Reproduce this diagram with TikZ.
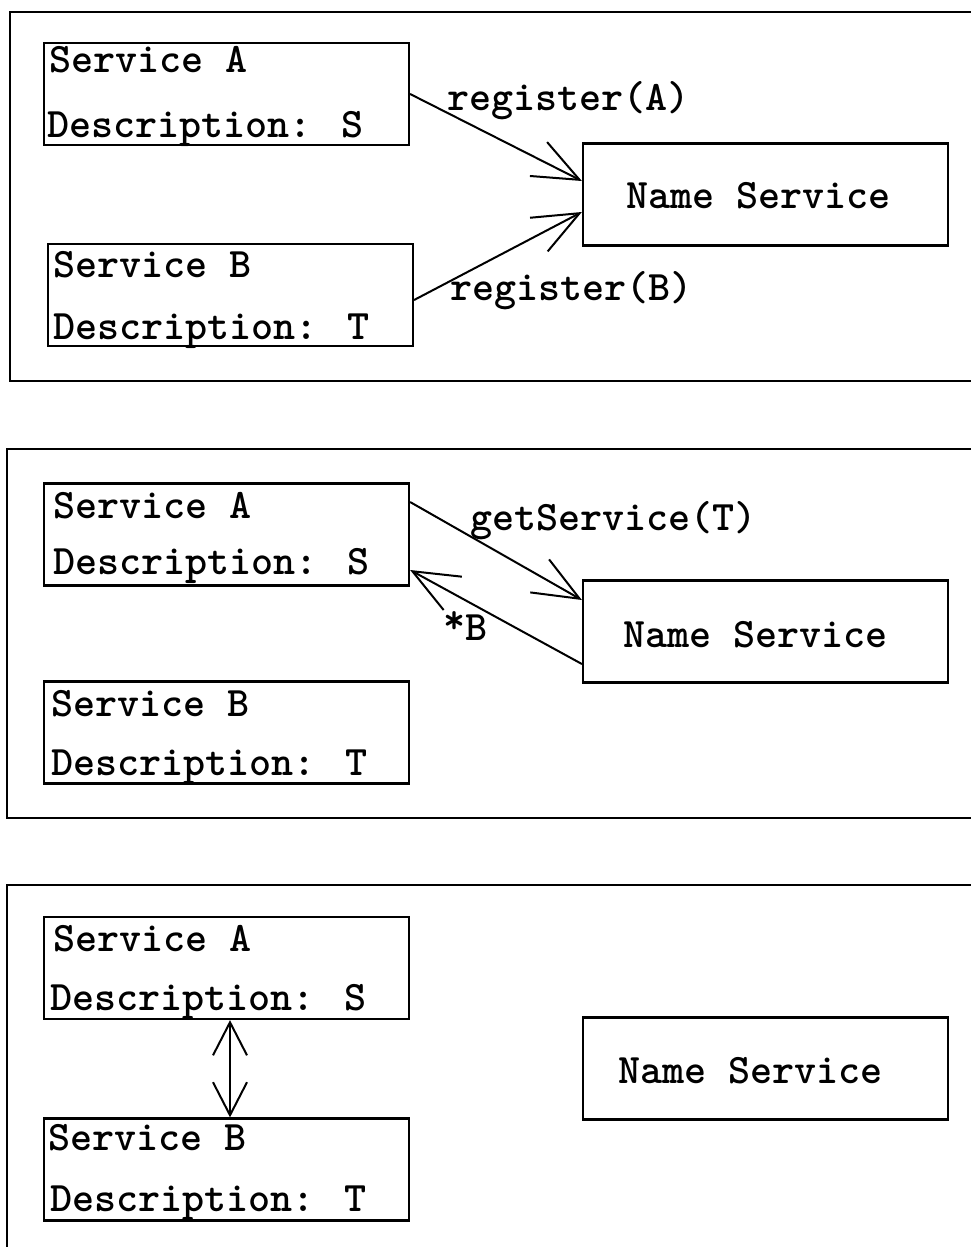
\documentclass[tikz,border=0pt]{standalone}
\usetikzlibrary{arrows.meta,calc}
\begin{document}
\begin{tikzpicture}[x=1pt,y=-1pt,
  frame/.style={line width=2.6pt},
  box/.style={draw,line width=2.2pt,minimum width=365pt,minimum height=102pt,inner sep=0pt},
  txt/.style={anchor=base west,inner sep=0pt,font=\ttfamily\bfseries\fontsize{42}{50}\selectfont},
  conn/.style={line width=2pt,-{Straight Barb[length=46pt,width=38pt,line width=2pt]}},
  dconn/.style={line width=2pt,{Straight Barb[length=33pt,width=34pt,line width=2pt]}-{Straight Barb[length=33pt,width=34pt,line width=2pt]}}]
\useasboundingbox (0,0) rectangle (971,1247);
\fill[white] (0,0) rectangle (971,1247);
% frames
\draw[frame] (10,12) rectangle (990,381);
\draw[frame] (7,449) rectangle (990,818);
\draw[frame] (7,885) rectangle (990,1270);
% panel 1
\node[box] (A1) at (226.5,94) {};
\node[box] (B1) at (230.5,295) {};
\node[box] (N1) at (765.5,194.5) {};
\node[txt] (A1t) at (49,72) {Service A};
\node[txt] (A1d) at (47,137) {Description: S};
\node[txt] (B1t) at (53,277) {Service B};
\node[txt] (B1d) at (53,339) {Description: T};
\node[txt] (N1t) at (626,208) {Name Service};
\node[txt] (L1a) at (447,110) {register(A)};
\node[txt] (L1b) at (450,300) {register(B)};
\draw[conn] (A1.east) -- ($(N1.west)+(0,-13.5)$);
\draw[conn] ($(B1.east)+(0,5)$) -- ($(N1.west)+(0,17.5)$);
% panel 2
\node[box] (A2) at (226.5,534.5) {};
\node[box] (B2) at (226.5,732.5) {};
\node[box] (N2) at (765.5,631.5) {};
\node[txt] (A2t) at (53,518) {Service A};
\node[txt] (A2d) at (53,574) {Description: S};
\node[txt] (B2t) at (51,716) {Service B};
\node[txt] (B2d) at (51,775) {Description: T};
\node[txt] (N2t) at (623,647) {Name Service};
\node[txt] (L2a) at (470,530) {getService(T)};
\node[txt] (L2b) at (443,640) {\raisebox{7pt}{*}B};
\draw[conn] ($(A2.east)+(0,-32.5)$) -- ($(N2.west)+(0,-31.5)$);
\draw[conn] ($(N2.west)+(0,32.5)$) -- ($(A2.east)+(0,35.5)$);
% panel 3
\node[box] (A3) at (226.5,968) {};
\node[box] (B3) at (226.5,1169.5) {};
\node[box] (N3) at (765.5,1068.5) {};
\node[txt] (A3t) at (53,951) {Service A};
\node[txt] (A3d) at (50,1010) {Description: S};
\node[txt] (B3t) at (48,1150) {Service B};
\node[txt] (B3d) at (50,1211) {Description: T};
\node[txt] (N3t) at (618,1083) {Name Service};
\draw[dconn] ($(A3.south)+(3.5,0)$) -- ($(B3.north)+(3.5,0)$);
\end{tikzpicture}
\end{document}
